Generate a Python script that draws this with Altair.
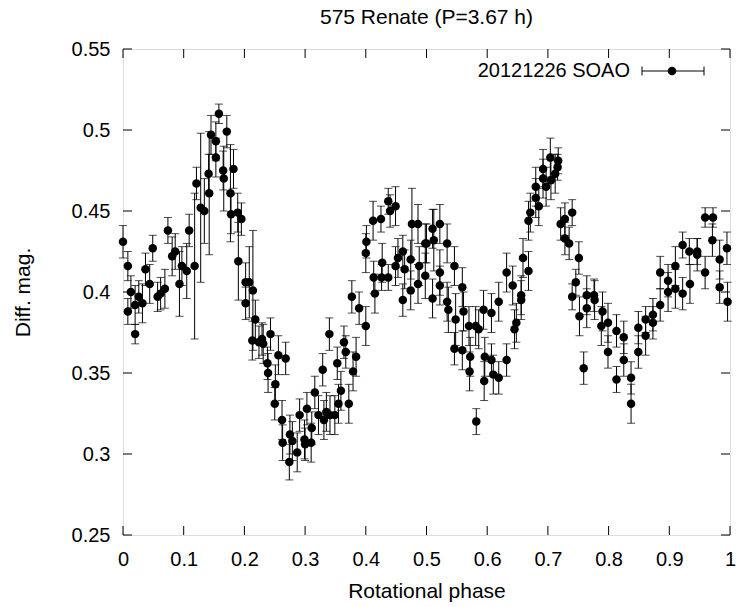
import altair as alt
import pandas as pd

title_text = "575 Renate (P=3.67 h)"
legend_label = "20121226 SOAO"
x_title = "Rotational phase"
y_title = "Diff. mag."

x_ticks = [0, 0.1, 0.2, 0.3, 0.4, 0.5, 0.6, 0.7, 0.8, 0.9, 1]
y_ticks = [0.25, 0.3, 0.35, 0.4, 0.45, 0.5, 0.55]

phase = [
    0.000, 0.008, 0.008, 0.013, 0.020, 0.026, 0.032, 0.020, 0.037, 0.044,
    0.049, 0.057, 0.062, 0.069, 0.074, 0.081, 0.086, 0.093, 0.097, 0.105,
    0.109, 0.118, 0.121, 0.128, 0.134, 0.141, 0.142, 0.145, 0.153, 0.153,
    0.158, 0.165, 0.166, 0.171, 0.177, 0.182, 0.178, 0.189, 0.195, 0.190,
    0.202, 0.202, 0.208, 0.214, 0.218, 0.213, 0.224, 0.229, 0.231, 0.243,
    0.238, 0.239, 0.256, 0.268, 0.251, 0.250, 0.262, 0.263, 0.275, 0.274,
    0.279, 0.287, 0.291, 0.299, 0.300, 0.303, 0.310, 0.311, 0.316, 0.322,
    0.329, 0.331, 0.335, 0.341, 0.349, 0.340, 0.353, 0.355, 0.359, 0.364,
    0.367, 0.372, 0.379, 0.384, 0.377, 0.389, 0.400, 0.401, 0.400, 0.412,
    0.425, 0.413, 0.415, 0.426, 0.427, 0.437, 0.437, 0.440, 0.449, 0.449,
    0.453, 0.461, 0.464, 0.461, 0.474, 0.474, 0.476, 0.486, 0.488, 0.486,
    0.498, 0.500, 0.498, 0.510, 0.512, 0.522, 0.522, 0.522, 0.510, 0.534,
    0.534, 0.536, 0.546, 0.548, 0.559, 0.561, 0.546, 0.559, 0.570, 0.572,
    0.571, 0.581, 0.586, 0.594, 0.596, 0.595, 0.582, 0.607, 0.607, 0.610,
    0.619, 0.619, 0.632, 0.632, 0.642, 0.645, 0.648, 0.656, 0.656, 0.659,
    0.668, 0.668, 0.671, 0.680, 0.680, 0.685, 0.692, 0.692, 0.697, 0.704,
    0.705, 0.712, 0.717, 0.716, 0.721, 0.728, 0.740, 0.728, 0.735, 0.751,
    0.746, 0.740, 0.752, 0.764, 0.764, 0.776, 0.777, 0.790, 0.788, 0.759,
    0.799, 0.799, 0.813, 0.813, 0.825, 0.825, 0.837, 0.837, 0.849, 0.849,
    0.861, 0.861, 0.873, 0.873, 0.885, 0.885, 0.898, 0.898, 0.910, 0.910,
    0.922, 0.922, 0.933, 0.934, 0.946, 0.946, 0.959, 0.959, 0.972, 0.971,
    0.983, 0.983, 0.995, 0.996,
]

mag = [
    0.431, 0.416, 0.388, 0.400, 0.392, 0.397, 0.393, 0.374, 0.414, 0.405,
    0.427, 0.397, 0.399, 0.402, 0.438, 0.422, 0.425, 0.405, 0.416, 0.413,
    0.438, 0.416, 0.467, 0.452, 0.450, 0.473, 0.461, 0.497, 0.493, 0.483,
    0.510, 0.475, 0.470, 0.499, 0.461, 0.476, 0.448, 0.449, 0.445, 0.419,
    0.406, 0.393, 0.406, 0.401, 0.383, 0.370, 0.369, 0.371, 0.368, 0.374,
    0.356, 0.350, 0.361, 0.359, 0.343, 0.331, 0.321, 0.307, 0.312, 0.295,
    0.308, 0.301, 0.324, 0.309, 0.306, 0.328, 0.307, 0.316, 0.338, 0.324,
    0.352, 0.321, 0.326, 0.324, 0.324, 0.374, 0.356, 0.331, 0.339, 0.369,
    0.363, 0.331, 0.351, 0.360, 0.397, 0.390, 0.379, 0.431, 0.424, 0.444,
    0.445, 0.409, 0.399, 0.409, 0.418, 0.409, 0.456, 0.450, 0.453, 0.416,
    0.421, 0.425, 0.414, 0.395, 0.420, 0.401, 0.442, 0.442, 0.416, 0.405,
    0.430, 0.430, 0.410, 0.439, 0.432, 0.442, 0.412, 0.404, 0.396, 0.430,
    0.394, 0.389, 0.416, 0.383, 0.403, 0.388, 0.365, 0.364, 0.379, 0.360,
    0.351, 0.379, 0.377, 0.389, 0.360, 0.345, 0.320, 0.387, 0.358, 0.349,
    0.394, 0.347, 0.412, 0.358, 0.404, 0.377, 0.381, 0.398, 0.395, 0.421,
    0.413, 0.444, 0.449, 0.465, 0.458, 0.453, 0.476, 0.470, 0.465, 0.483,
    0.469, 0.473, 0.481, 0.477, 0.442, 0.445, 0.449, 0.433, 0.430, 0.421,
    0.406, 0.397, 0.385, 0.398, 0.390, 0.398, 0.395, 0.388, 0.379, 0.353,
    0.381, 0.363, 0.376, 0.346, 0.372, 0.358, 0.347, 0.331, 0.378, 0.363,
    0.383, 0.373, 0.386, 0.381, 0.392, 0.412, 0.407, 0.400, 0.416, 0.402,
    0.429, 0.399, 0.425, 0.405, 0.425, 0.423, 0.446, 0.412, 0.446, 0.432,
    0.420, 0.403, 0.427, 0.394,
]

err = [
    0.010, 0.009, 0.008, 0.010, 0.012, 0.010, 0.012, 0.006, 0.010, 0.012,
    0.008, 0.009, 0.010, 0.012, 0.008, 0.012, 0.011, 0.020, 0.012, 0.017,
    0.010, 0.045, 0.010, 0.046, 0.020, 0.012, 0.038, 0.012, 0.012, 0.012,
    0.006, 0.012, 0.020, 0.010, 0.030, 0.012, 0.012, 0.012, 0.010, 0.024,
    0.012, 0.010, 0.022, 0.037, 0.012, 0.012, 0.010, 0.010, 0.012, 0.010,
    0.010, 0.012, 0.012, 0.010, 0.012, 0.010, 0.012, 0.011, 0.012, 0.011,
    0.012, 0.012, 0.010, 0.012, 0.010, 0.010, 0.012, 0.010, 0.010, 0.012,
    0.010, 0.012, 0.012, 0.012, 0.012, 0.010, 0.010, 0.012, 0.012, 0.010,
    0.010, 0.012, 0.012, 0.012, 0.010, 0.010, 0.012, 0.010, 0.012, 0.012,
    0.008, 0.010, 0.012, 0.008, 0.012, 0.008, 0.008, 0.010, 0.012, 0.012,
    0.012, 0.010, 0.012, 0.010, 0.012, 0.012, 0.022, 0.012, 0.012, 0.012,
    0.012, 0.012, 0.014, 0.012, 0.019, 0.012, 0.014, 0.012, 0.012, 0.012,
    0.012, 0.014, 0.012, 0.016, 0.012, 0.012, 0.010, 0.012, 0.012, 0.012,
    0.012, 0.012, 0.012, 0.012, 0.012, 0.012, 0.008, 0.012, 0.010, 0.012,
    0.012, 0.010, 0.012, 0.010, 0.012, 0.012, 0.012, 0.012, 0.012, 0.012,
    0.012, 0.012, 0.012, 0.012, 0.012, 0.012, 0.012, 0.012, 0.012, 0.012,
    0.012, 0.012, 0.008, 0.008, 0.010, 0.010, 0.008, 0.010, 0.010, 0.010,
    0.008, 0.008, 0.012, 0.012, 0.012, 0.010, 0.012, 0.012, 0.012, 0.010,
    0.012, 0.010, 0.010, 0.008, 0.010, 0.010, 0.010, 0.012, 0.010, 0.010,
    0.008, 0.012, 0.010, 0.010, 0.010, 0.010, 0.010, 0.012, 0.012, 0.012,
    0.008, 0.010, 0.008, 0.012, 0.008, 0.010, 0.006, 0.010, 0.006, 0.010,
    0.012, 0.010, 0.010, 0.012,
]

n = min(len(phase), len(mag), len(err))
df = pd.DataFrame({"phase": phase[:n], "mag": mag[:n], "err": err[:n]})
df["lo"] = df["mag"] - df["err"]
df["hi"] = df["mag"] + df["err"]

W, H = 607, 486
TL = 9
FONT = "Liberation Sans"

xs = alt.Scale(domain=[0, 1], nice=False, zero=False)
ys = alt.Scale(domain=[0.25, 0.55], nice=False, zero=False)

x_axis = alt.Axis(
    values=x_ticks, labelExpr="format(datum.value, '~g')", grid=False,
    domain=False, ticks=False, tickSize=0, labelFont=FONT, labelFontSize=20,
    labelColor="black", labelBaseline="alphabetic", labelPadding=30,
    labelFlush=False, labelOverlap=False,
    title=x_title, titleFont=FONT, titleFontSize=21, titleFontWeight="normal",
    titleColor="black", titleX=W / 2, titleY=62, titleBaseline="alphabetic",
    titleAlign="center",
)
y_axis = alt.Axis(
    values=y_ticks, labelExpr="format(datum.value, '~g')", grid=False,
    domain=False, ticks=False, tickSize=0, labelFont=FONT, labelFontSize=20,
    labelColor="black", labelBaseline="middle", labelPadding=13,
    labelFlush=False, labelOverlap=False,
    title=y_title, titleFont=FONT, titleFontSize=21, titleFontWeight="normal",
    titleColor="black", titleX=-94, titleY=H / 2, titleBaseline="alphabetic",
    titleAlign="center", titleAngle=-90,
)

base = alt.Chart(df)

bars = base.mark_errorbar(
    ticks=alt.TickConfig(size=8), color="black", thickness=1
).encode(
    x=alt.X("phase:Q", scale=xs, axis=x_axis),
    y=alt.Y("lo:Q", scale=ys, axis=y_axis),
    y2="hi:Q",
)

pts = base.mark_circle(size=72, color="black", opacity=1).encode(
    x=alt.X("phase:Q", scale=xs),
    y=alt.Y("mag:Q", scale=ys),
)

xt = alt.Chart(pd.DataFrame({"t": x_ticks}))
yt = alt.Chart(pd.DataFrame({"t": y_ticks}))
tick_style = dict(color="black", strokeWidth=1)
bottom_ticks = xt.mark_rule(**tick_style).encode(
    x=alt.X("t:Q", scale=xs), y=alt.value(H), y2=alt.value(H - TL))
top_ticks = xt.mark_rule(**tick_style).encode(
    x=alt.X("t:Q", scale=xs), y=alt.value(0), y2=alt.value(TL))
left_ticks = yt.mark_rule(**tick_style).encode(
    y=alt.Y("t:Q", scale=ys), x=alt.value(0), x2=alt.value(TL))
right_ticks = yt.mark_rule(**tick_style).encode(
    y=alt.Y("t:Q", scale=ys), x=alt.value(W), x2=alt.value(W - TL))

leg = alt.Chart(pd.DataFrame({"label": [legend_label], "title": [title_text]}))
title_mark = leg.mark_text(
    align="center", baseline="alphabetic", font=FONT, fontSize=21, color="black"
).encode(text="title:N", x=alt.value(W / 2), y=alt.value(-25))
leg_text = leg.mark_text(
    align="right", baseline="middle", font=FONT, fontSize=20, color="black"
).encode(text="label:N", x=alt.value(507), y=alt.value(22))
leg_line = leg.mark_rule(color="black", strokeWidth=1).encode(
    x=alt.value(519), x2=alt.value(581), y=alt.value(22))
leg_cap1 = leg.mark_rule(color="black", strokeWidth=1).encode(
    x=alt.value(519), y=alt.value(17.5), y2=alt.value(26.5))
leg_cap2 = leg.mark_rule(color="black", strokeWidth=1).encode(
    x=alt.value(581), y=alt.value(17.5), y2=alt.value(26.5))
leg_dot = leg.mark_circle(size=72, color="black", opacity=1).encode(
    x=alt.value(549), y=alt.value(22))

chart = alt.layer(
    bottom_ticks, top_ticks, left_ticks, right_ticks,
    bars, pts, leg_line, leg_cap1, leg_cap2, leg_dot, leg_text, title_mark,
).properties(
    width=W, height=H,
    autosize=alt.AutoSizeParams(type="none"),
    padding={"left": 123, "top": 49, "right": 7, "bottom": 72},
).configure_view(
    stroke="black", strokeWidth=1.2
).configure(background="white")

chart.save("out.html", embed_options={"renderer": "svg", "actions": False})
